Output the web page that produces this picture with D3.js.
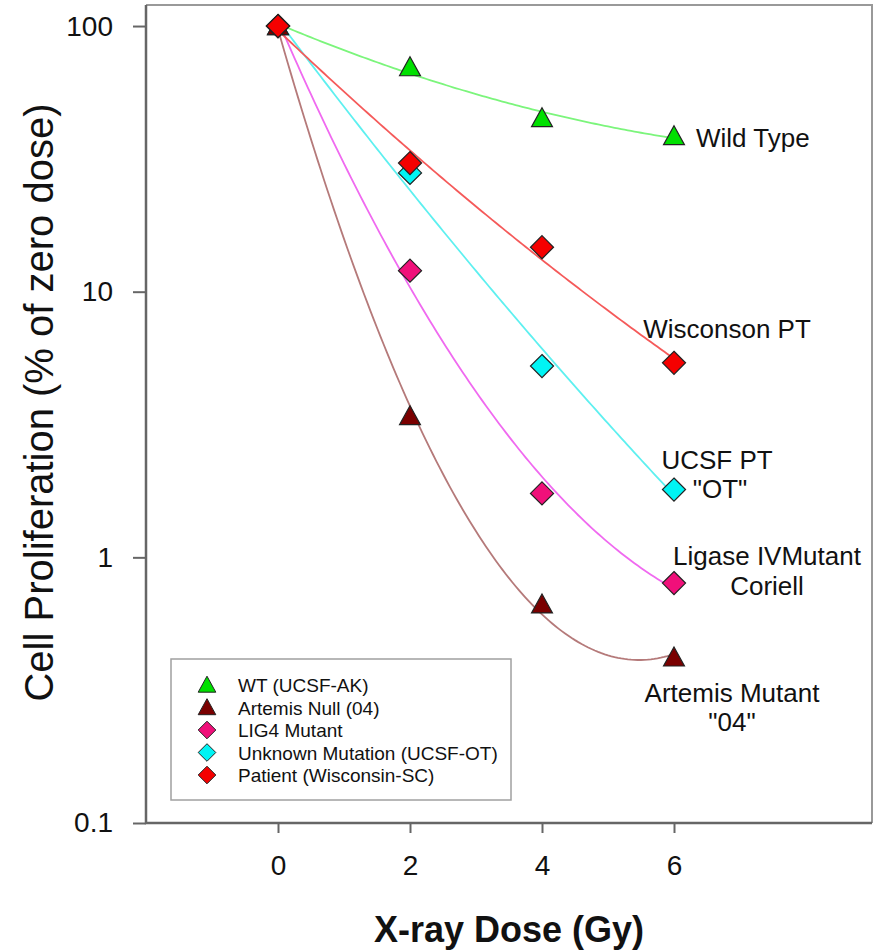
<!DOCTYPE html>
<html lang="en">
<head>
    <meta charset="UTF-8">
    <title>Cell Proliferation vs X-ray Dose</title>
    <script src="https://d3js.org/d3.v7.min.js"></script>
    <style>
        body { margin: 0; background: #fff; font-family: "Liberation Sans", Arial, sans-serif; }
        svg text { fill: #111; }
    </style>
</head>
<body>
<svg id="chart" width="881" height="950"></svg>

<script>
// data
const doses = [0, 2, 4, 6];
const wtValues      = [100, 70, 45, 38.5];
const artemisValues = [100, 3.4, 0.665, 0.42];
const lig4Values    = [100, 12, 1.74, 0.8];
const unknownValues = [100, 28, 5.25, 1.8];
const patientValues = [100, 30.5, 14.7, 5.4];

const xTicks = [0, 2, 4, 6];
const yTicks = [0.1, 1, 10, 100];

const legendNames = ["WT (UCSF-AK)", "Artemis Null (04)", "LIG4 Mutant",
                     "Unknown Mutation (UCSF-OT)", "Patient (Wisconsin-SC)"];

// series in drawing order (later = on top)
const series = [
    { name: legendNames[0], values: wtValues,      line: "#7cf57c", fill: "#00e000", shape: "tri" },
    { name: legendNames[1], values: artemisValues, line: "#b57a7a", fill: "#7a0000", shape: "tri" },
    { name: legendNames[2], values: lig4Values,    line: "#f06af0", fill: "#f0107a", shape: "dia" },
    { name: legendNames[3], values: unknownValues, line: "#5ef0f0", fill: "#00f4f4", shape: "dia" },
    { name: legendNames[4], values: patientValues, line: "#f55a5a", fill: "#f50000", shape: "dia" }
];

const svg = d3.select("#chart");
const plotL = 146, plotR = 872, plotT = 5, plotB = 823;

const x = d3.scaleLinear().domain([-2, 9]).range([plotL, plotR]);
const y = d3.scaleLog().domain([0.1, 120]).range([plotB, plotT]);

// frame (top / right)
svg.append("path")
    .attr("d", `M${plotL},${plotT}H${plotR}V${plotB}`)
    .attr("fill", "none").attr("stroke", "#999").attr("stroke-width", 2);

// axes
const yAxis = svg.append("g")
    .attr("transform", `translate(${plotL},0)`)
    .call(d3.axisLeft(y).tickValues(yTicks).tickFormat(d3.format("~g"))
        .tickSize(13).tickPadding(20));
const xAxis = svg.append("g")
    .attr("transform", `translate(0,${plotB})`)
    .call(d3.axisBottom(x).tickValues(xTicks).tickSize(10).tickPadding(22));

[xAxis, yAxis].forEach(g => {
    g.select(".domain").remove();
    g.selectAll("line").attr("stroke", "#666").attr("stroke-width", 2);
    g.selectAll("text").attr("font-size", 28).attr("font-family", "Liberation Sans, Arial, sans-serif")
        .attr("fill", "#111");
});
svg.append("path")
    .attr("d", `M${plotL},${plotT}V${plotB}H${plotR}`)
    .attr("fill", "none").attr("stroke", "#666").attr("stroke-width", 2.5);

// axis titles
svg.append("text")
    .attr("transform", `translate(53,${(105 + 700) / 2}) rotate(-90)`)
    .attr("text-anchor", "middle")
    .attr("font-size", 40)
    .text("Cell Proliferation (% of zero dose)");
svg.append("text")
    .attr("x", 509).attr("y", 942)
    .attr("text-anchor", "middle")
    .attr("font-size", 36).attr("font-weight", "bold")
    .text("X-ray Dose (Gy)");

// quadratic regression of log10(value) on dose, as the original fit lines
function quadFit(xs, vs) {
    const ys = vs.map(v => Math.log10(v));
    const S = k => d3.sum(xs, v => Math.pow(v, k));
    const T = k => d3.sum(xs, (v, i) => Math.pow(v, k) * ys[i]);
    const m = [[S(0), S(1), S(2), T(0)], [S(1), S(2), S(3), T(1)], [S(2), S(3), S(4), T(2)]];
    for (let i = 0; i < 3; i++) {
        for (let r = i + 1; r < 3; r++) {
            const f = m[r][i] / m[i][i];
            for (let c = i; c < 4; c++) m[r][c] -= f * m[i][c];
        }
    }
    const coef = [0, 0, 0];
    for (let i = 2; i >= 0; i--) {
        let s = m[i][3];
        for (let c = i + 1; c < 3; c++) s -= m[i][c] * coef[c];
        coef[i] = s / m[i][i];
    }
    return t => Math.pow(10, coef[0] + coef[1] * t + coef[2] * t * t);
}

const fitX = d3.range(0, 6.001, 0.05);
const line = d3.line()
    .x(d => x(d[0]))
    .y(d => y(d[1]));

svg.append("g").selectAll("path")
    .data(series)
    .enter().append("path")
    .attr("d", d => {
        const f = quadFit(doses, d.values);
        return line(fitX.map(t => [t, f(t)]));
    })
    .attr("fill", "none")
    .attr("stroke", d => d.line)
    .attr("stroke-width", 1.8);

// marker shapes
function markerPath(shape, s) {
    if (shape === "tri") return `M0,${-s * 0.55}L${s * 0.55},${s * 0.45}L${-s * 0.55},${s * 0.45}Z`;
    return `M0,${-s * 0.55}L${s * 0.55},0L0,${s * 0.55}L${-s * 0.55},0Z`;
}

series.forEach(s => {
    svg.append("g").selectAll("path")
        .data(s.values)
        .enter().append("path")
        .attr("transform", (d, i) => `translate(${x(doses[i])},${y(d)})`)
        .attr("d", markerPath(s.shape, s.shape === "tri" ? 19 : 21))
        .attr("fill", s.fill)
        .attr("stroke", "#222")
        .attr("stroke-width", 1.2);
});

// annotations next to the last points
const notes = [
    { lines: ["Wild Type"], anchor: "start", dx: 22, dy: [11] , s: 0 },
    { lines: ["Wisconson PT"], anchor: "middle", dx: 53, dy: [-25], s: 4 },
    { lines: ["UCSF PT", "\"OT\""], anchor: "middle", dx: 43, dy: [-21, 8], s: 3 },
    { lines: ["Ligase IVMutant", "Coriell"], anchor: "middle", dx: 93, dy: [-18, 12], s: 2 },
    { lines: ["Artemis Mutant", "\"04\""], anchor: "middle", dx: 58, dy: [45, 74], s: 1 }
];
notes.forEach(n => {
    const s = series[n.s];
    const px = x(doses[3]), py = y(s.values[3]);
    n.lines.forEach((t, k) => {
        svg.append("text")
            .attr("x", px + n.dx + (n.s === 3 && k === 1 ? 3 : 0))
            .attr("y", py + n.dy[k])
            .attr("text-anchor", n.anchor)
            .attr("font-size", 26)
            .text(t);
    });
});

// legend
const legend = svg.append("g").attr("transform", "translate(171,659)");
legend.append("rect")
    .attr("width", 340).attr("height", 141)
    .attr("fill", "#fff").attr("stroke", "#a0a0a0").attr("stroke-width", 1.5);

const legendY = d3.scalePoint().domain(legendNames).range([26, 116]);
series.forEach(s => {
    const row = legend.append("g").attr("transform", `translate(36,${legendY(s.name)})`);
    row.append("path")
        .attr("d", markerPath(s.shape, 16))
        .attr("fill", s.fill).attr("stroke", "#222").attr("stroke-width", 1);
    row.append("text")
        .attr("x", 31).attr("y", 7)
        .attr("font-size", 19)
        .text(s.name);
});
</script>
</body>
</html>
